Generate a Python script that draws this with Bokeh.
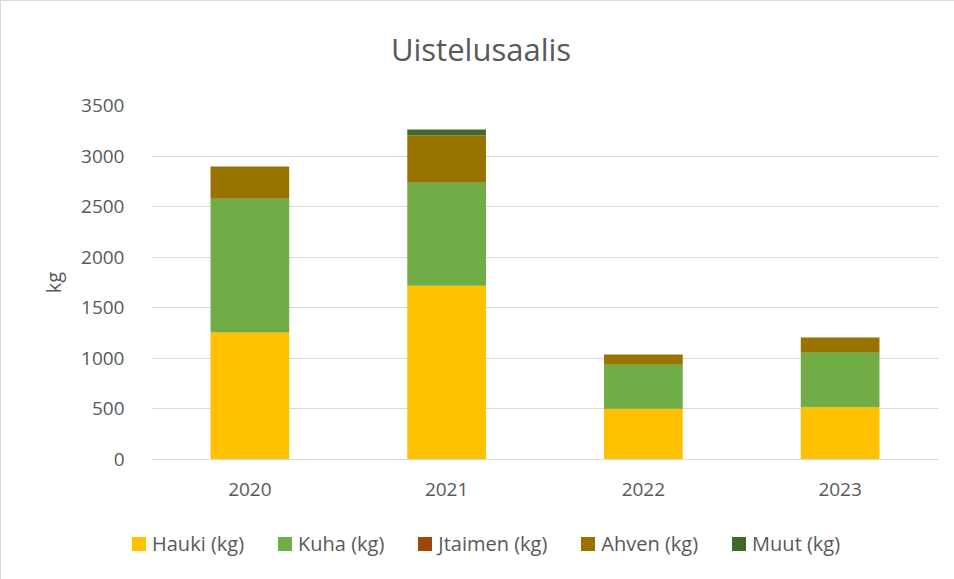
from bokeh.plotting import figure
from bokeh.layouts import column
from bokeh.models import Range1d, ColumnDataSource, Div
from bokeh.embed import file_html
from bokeh.resources import INLINE

title_text = "Uistelusaalis"
years = ["2020", "2021", "2022", "2023"]
series = ["Hauki (kg)", "Kuha (kg)", "Jtaimen (kg)", "Ahven (kg)", "Muut (kg)"]
hauki = [1255, 1717, 501, 517]
kuha = [1323, 1019, 435, 538]
jtaimen = [0, 0, 0, 0]
ahven = [319, 467, 102, 151]
muut = [0, 60, 0, 0]
colors = ["#FFC000", "#70AD47", "#9E480E", "#997300", "#43682B"]

src = ColumnDataSource(dict(years=years, **{
    series[0]: hauki, series[1]: kuha, series[2]: jtaimen,
    series[3]: ahven, series[4]: muut}))

TXT = "#595959"
FONT = "Open Sans"
TOTAL_W = 950

title = Div(text=title_text, width=TOTAL_W, height=69,
            styles={"font-family": FONT, "font-size": "31px", "color": TXT,
                    "text-align": "center", "line-height": "86px",
                    "width": f"{TOTAL_W}px"})

p = figure(x_range=years, y_range=Range1d(0, 3500),
           frame_width=787, frame_height=354,
           output_backend="svg", toolbar_location=None,
           min_border_left=150, min_border_right=13,
           min_border_top=25, min_border_bottom=51)

p.vbar_stack(series, x="years", width=0.4, color=colors,
             line_color=None, source=src)

p.outline_line_color = None
p.xgrid.grid_line_color = None
p.ygrid.grid_line_color = "#D9D9D9"
p.ygrid.grid_line_width = 1
p.yaxis.ticker = [0, 500, 1000, 1500, 2000, 2500, 3000, 3500]

for ax in (p.xaxis, p.yaxis):
    ax.major_tick_line_color = None
    ax.minor_tick_line_color = None
    ax.major_label_text_font = FONT
    ax.major_label_text_font_size = "19px"
    ax.major_label_text_color = TXT
p.yaxis.axis_line_color = None
p.xaxis.axis_line_color = "#D9D9D9"
p.yaxis.major_label_standoff = 21
p.xaxis.major_label_standoff = 17
p.yaxis.axis_label = "kg"
p.yaxis.axis_label_text_font = FONT
p.yaxis.axis_label_text_font_size = "20px"
p.yaxis.axis_label_text_font_style = "normal"
p.yaxis.axis_label_text_color = TXT
p.yaxis.axis_label_standoff = 11

# legend strip below the chart
entries = "".join(
    f'<span style="display:inline-flex;align-items:center;margin-right:34px">'
    f'<span style="display:inline-block;width:14px;height:14px;'
    f'background:{c};margin-right:6px"></span>{s}</span>'
    for s, c in zip(series, colors))
legend = Div(text=f'<div style="padding-left:126px;white-space:nowrap">{entries}</div>',
             width=TOTAL_W, height=64,
             styles={"font-family": FONT, "font-size": "20px", "color": TXT,
                     "line-height": "58px", "width": f"{TOTAL_W}px"})

layout = column(title, p, legend, spacing=0,
                styles={"border": "1px solid #D9D9D9"})

open("out.html", "w").write(file_html(layout, INLINE))
